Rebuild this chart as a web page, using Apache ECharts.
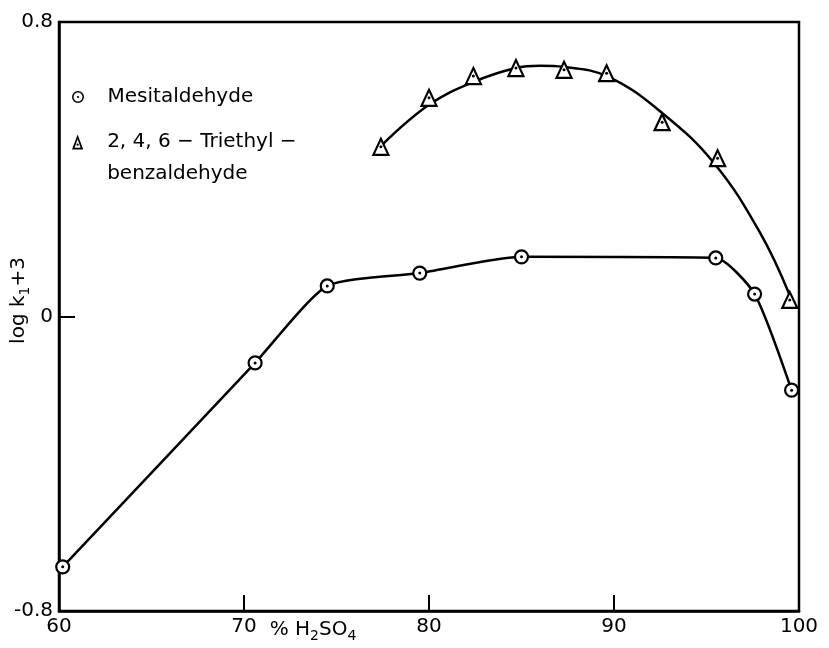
<!DOCTYPE html>
<html>
<head>
<meta charset="utf-8">
<script src="https://cdn.jsdelivr.net/npm/echarts@6/dist/echarts.min.js"></script>
<style>
  html, body { margin: 0; padding: 0; background: #fff; }
  #chart { width: 829px; height: 648px; }
</style>
</head>
<body>
<div id="chart"></div>
<script>
    // % H2SO4 and log k1 + 3
    var mesitX = [60.2, 70.6, 74.5, 79.5, 85.0, 95.5, 97.6, 99.6];
    var mesitY = [-0.68, -0.126, 0.083, 0.118, 0.162, 0.159, 0.061, -0.20];
    var triX = [77.4, 80.0, 82.4, 84.7, 87.3, 89.6, 92.6, 95.6, 99.5];
    var triY = [0.461, 0.594, 0.653, 0.675, 0.670, 0.661, 0.528, 0.430, 0.045];
    // the drawn fit curve through the triethyl points
    var triCurveX = [77.4, 80.0, 82.4, 84.7, 86.0, 87.3, 89.7, 92.6, 95.4, 97.9, 99.5];
    var triCurveY = [0.463, 0.575, 0.637, 0.675, 0.681, 0.678, 0.651, 0.553, 0.417, 0.227, 0.058];

    var mesitName = 'Mesitaldehyde';
    var triName = '2, 4, 6 \u2212 Triethyl \u2212\nbenzaldehyde';

    function pairs(xs, ys) {
        return xs.map(function(x, i) { return [x, ys[i]]; });
    }

    var font = 'DejaVu Sans';
    var ringIcon = 'path://M10,0A10,10,0,1,1,10,20A10,10,0,1,1,10,0Z' +
        'M10,2.6A7.4,7.4,0,1,0,10,17.4A7.4,7.4,0,1,0,10,2.6Z' +
        'M10,8.2A1.8,1.8,0,1,1,10,11.8A1.8,1.8,0,1,1,10,8.2Z';
    var triIcon = 'path://M6,0L12,16L0,16Z' +
        'M6,5L2.8,14L9.2,14Z' +
        'M6,9.6A1.2,1.2,0,1,1,6,12A1.2,1.2,0,1,1,6,9.6Z';

    var legendText = { fontFamily: font, fontSize: 20, color: '#000', lineHeight: 32 };
    var subStyle = { fontFamily: font, fontSize: 14, color: '#000', padding: [12, 0, 0, 0] };

    var option = {
        backgroundColor: '#fff',
        animation: false,
        grid: {
            left: 59,
            right: 30,
            top: 22,
            bottom: 37,
            outerBoundsMode: 'none',
            containLabel: false,
            show: true,
            borderColor: '#000',
            borderWidth: 2.5,
            backgroundColor: 'transparent'
        },
        legend: [{
            left: 72,
            top: 81,
            padding: 0,
            orient: 'vertical',
            itemWidth: 49,
            itemHeight: 12,
            data: [{ name: mesitName, icon: ringIcon, itemStyle: { color: '#000', borderWidth: 0 } }],
            textStyle: legendText
        }, {
            left: 72,
            top: 94,
            padding: 0,
            orient: 'vertical',
            itemWidth: 49,
            itemHeight: 15,
            data: [{ name: triName, icon: triIcon, itemStyle: { color: '#000', borderWidth: 0 } }],
            // blank first line keeps the icon level with "2, 4, 6"
            formatter: function(name) { return '\n' + name; },
            textStyle: legendText
        }],
        xAxis: {
            type: 'value',
            min: 60,
            max: 100,
            interval: 10,
            name: '% H{sub|2}SO{sub|4}',
            nameLocation: 'middle',
            nameGap: 6,
            nameMoveOverlap: false,
            nameTextStyle: {
                fontFamily: font,
                fontSize: 20,
                color: '#000',
                padding: [0, 232, 0, 0],
                rich: { sub: subStyle }
            },
            axisLine: { onZero: false, lineStyle: { color: '#000', width: 2.5 } },
            axisTick: { inside: true, length: 16, lineStyle: { color: '#000', width: 2 } },
            axisLabel: { fontFamily: font, fontSize: 20, color: '#000', margin: 6 },
            splitLine: { show: false }
        },
        yAxis: {
            type: 'value',
            min: -0.8,
            max: 0.8,
            interval: 0.8,
            name: 'log k{sub|1}+3',
            nameLocation: 'middle',
            nameGap: 27,
            nameMoveOverlap: false,
            nameTextStyle: {
                fontFamily: font,
                fontSize: 20,
                color: '#000',
                padding: [0, 0, 0, 32],
                rich: { sub: subStyle }
            },
            axisLine: { onZero: false, lineStyle: { color: '#000', width: 2.5 } },
            axisTick: { inside: true, length: 16, lineStyle: { color: '#000', width: 2 } },
            axisLabel: {
                fontFamily: font,
                fontSize: 20,
                color: '#000',
                margin: 6,
                formatter: function(v) {
                    return v === 0 ? '0' : v.toFixed(1);
                }
            },
            splitLine: { show: false }
        },
        series: [{
            name: 'tri-curve',
            type: 'line',
            data: pairs(triCurveX, triCurveY),
            smooth: 0.4,
            showSymbol: false,
            symbol: 'none',
            lineStyle: { color: '#000', width: 2.5 },
            silent: true,
            z: 2
        }, {
            name: mesitName,
            type: 'line',
            data: pairs(mesitX, mesitY),
            smooth: 0.2,
            symbol: 'circle',
            symbolSize: 13,
            lineStyle: { color: '#000', width: 2.5 },
            itemStyle: { color: '#fff', borderColor: '#000', borderWidth: 2.2 },
            z: 3
        }, {
            name: triName,
            type: 'scatter',
            data: pairs(triX, triY),
            symbol: 'triangle',
            symbolSize: [15, 16],
            itemStyle: { color: '#fff', borderColor: '#000', borderWidth: 2.2, opacity: 1 },
            z: 4
        }, {
            name: 'mesit-dot',
            type: 'scatter',
            data: pairs(mesitX, mesitY),
            symbol: 'circle',
            symbolSize: 3,
            itemStyle: { color: '#000', opacity: 1 },
            z: 5
        }, {
            name: 'tri-dot',
            type: 'scatter',
            data: pairs(triX, triY),
            symbol: 'circle',
            symbolSize: 3,
            itemStyle: { color: '#000', opacity: 1 },
            z: 5
        }]
    };

    var myChart = echarts.init(document.getElementById('chart'));
    myChart.setOption(option);
</script>
</body>
</html>
